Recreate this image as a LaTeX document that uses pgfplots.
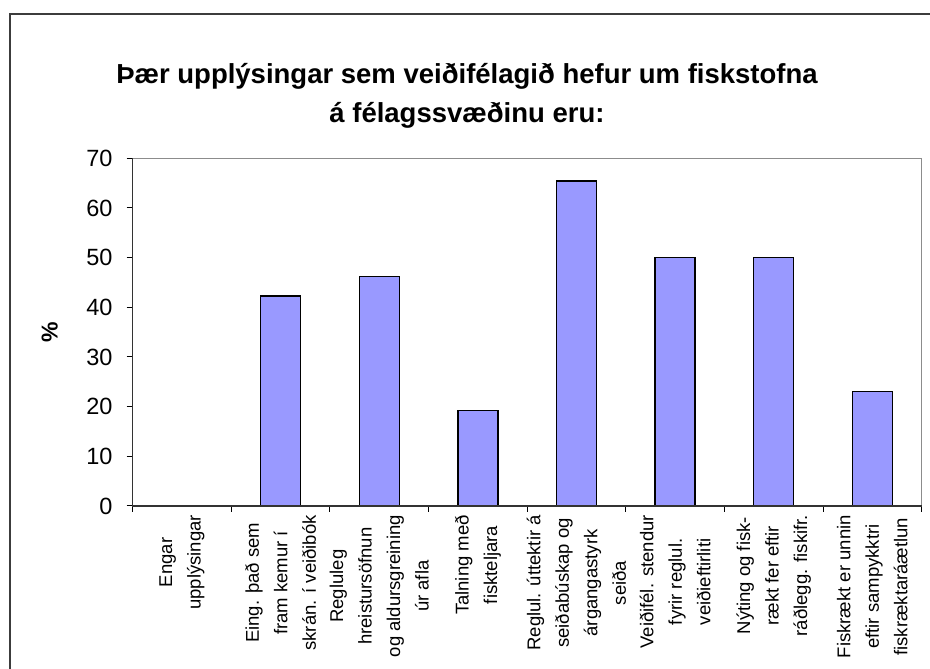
\documentclass[border=0pt]{standalone}
\usepackage{pgfplots}
\pgfplotsset{compat=1.18}
\usepackage{fontspec}
\setmainfont{Liberation Sans}
\definecolor{barblue}{HTML}{9999FF}
\definecolor{framegray}{HTML}{3C3C3C}
\begin{document}
\begin{tikzpicture}[x=1pt,y=1pt]
\useasboundingbox (0,0) rectangle (930,669);
\fill[white] (0,0) rectangle (930,669);
\draw[framegray, line width=2pt] (9.5,0) -- (9.5,655) -- (930,655);
\node[align=center, font=\fontsize{27.5}{39}\selectfont\bfseries] at (467,573)
  {Þær upplýsingar sem veiðifélagið hefur um fiskstofna\\á félagssvæðinu eru:};
\begin{axis}[
  at={(132.7pt,163pt)}, anchor=south west,
  scale only axis, width=789pt, height=347.7pt,
  xmin=-0.5, xmax=7.5, ymin=0, ymax=70,
  ytick={0,10,...,70},
  xtick={0,...,7},
  major x tick style={draw=none},
  minor xtick={-0.5,0.5,...,7.5},
  xticklabels={{Engar\\upplýsingar},
    {Eing. það sem\\fram kemur í\\skrán. í veiðibók},
    {Regluleg\\hreistursöfnun\\og aldursgreining\\úr afla},
    {Talning með\\fiskteljara},
    {Reglul. úttektir á\\seiðabúskap og\\árgangastyrk\\seiða},
    {Veiðifél. stendur\\fyrir reglul.\\veiðieftirliti},
    {Nýting og fisk-\\rækt fer eftir\\ráðlegg. fiskifr.},
    {Fiskrækt er unnin\\eftir sampykktri\\fiskræktaráætlun}},
  xticklabel style={rotate=90, anchor=east, align=center,
    font=\fontsize{18.5}{28.5}\selectfont, inner sep=0pt, xshift=-3pt},
  yticklabel style={font=\fontsize{23.5}{26}\selectfont, inner sep=0pt, xshift=-14pt},
  /pgf/number format/assume math mode=true,
  tick align=outside, tick pos=left,
  major tick length=6pt, minor tick length=6pt,
  tick style={black, line width=1pt},
  axis line style={draw=none},
  clip=false,
]
\draw[gray!90, line width=1.5pt] (rel axis cs:0,1) -- (rel axis cs:1,1) -- (rel axis cs:1,0);
\addplot[ybar, bar width=40pt, fill=barblue, draw=black, line width=1.3pt]
  coordinates {(0,0) (1,42.3) (2,46.2) (3,19.2) (4,65.4) (5,50) (6,50) (7,23.1)};
\draw[black!80, line width=1.5pt] (rel axis cs:0,1) -- (rel axis cs:0,0) -- (rel axis cs:1,0);
\node[font=\fontsize{23}{26}\selectfont\bfseries, rotate=90] at ([xshift=-83pt]rel axis cs:0,0.5) {\%};
\end{axis}
\end{tikzpicture}
\end{document}
